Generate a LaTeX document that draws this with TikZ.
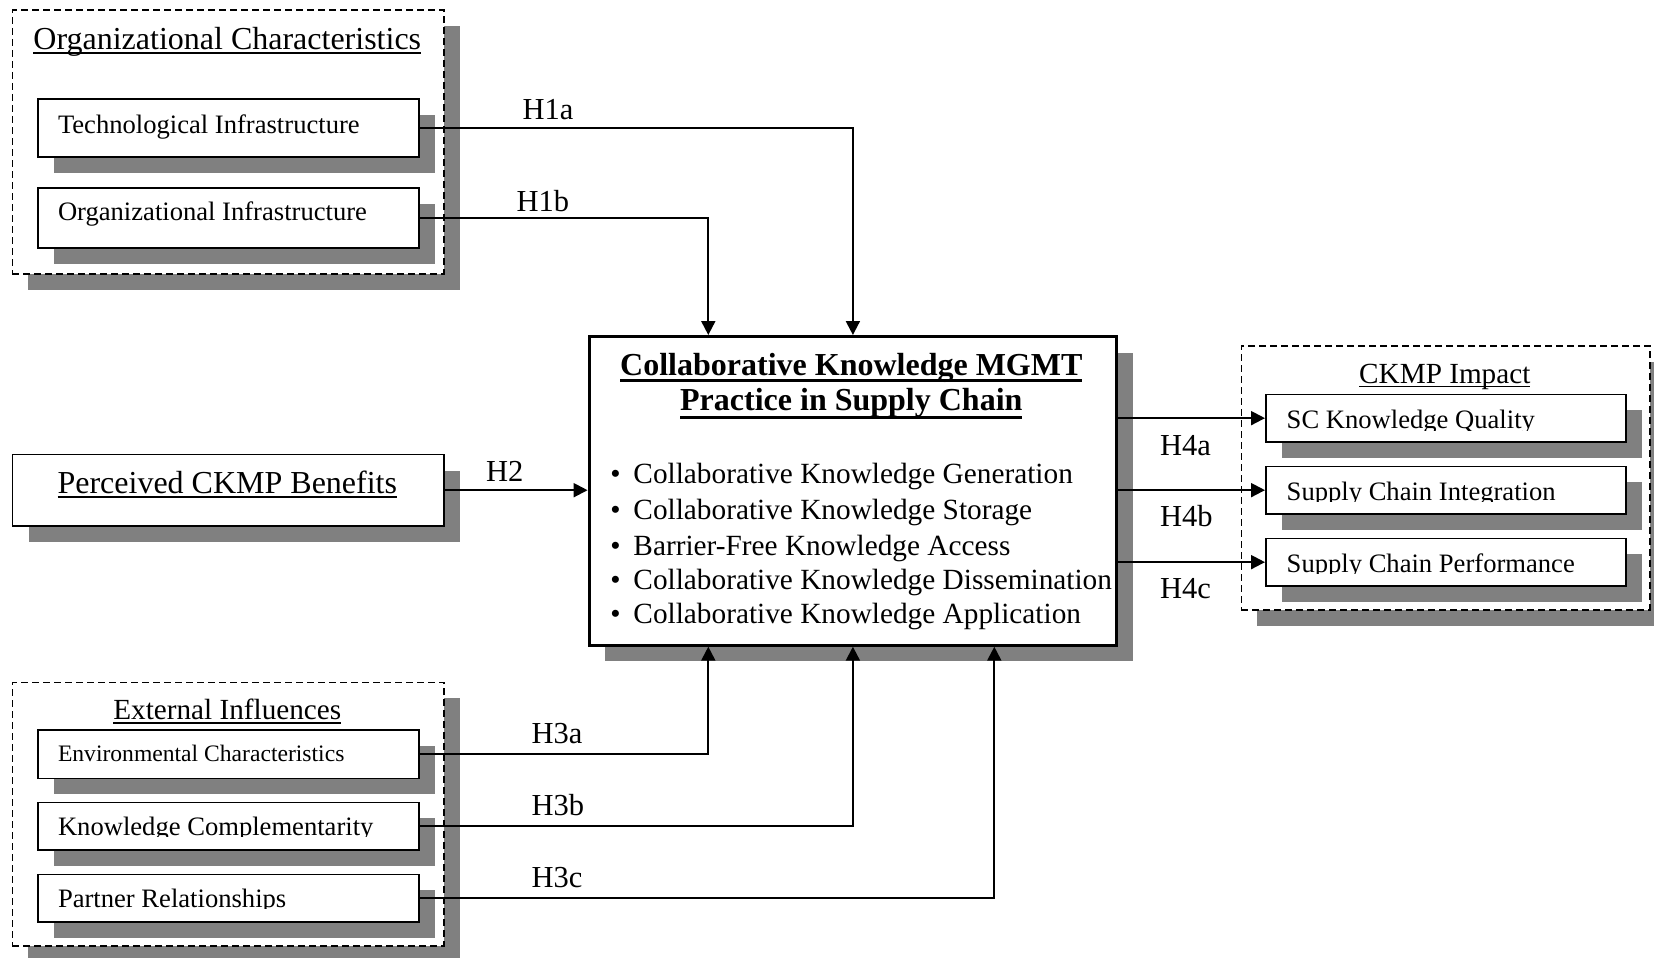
\documentclass[tikz,border=0pt]{standalone}
\usepackage{fontspec}
\setmainfont{Liberation Serif}
\usetikzlibrary{arrows.meta,shadows}
\definecolor{shade}{HTML}{808080}
\newcommand{\fsz}[1]{\fontsize{#1}{#1}\selectfont}
% text whose lower part is cut off just under the baseline
\newcommand{\cliptxt}[6]{% name, x, baseline, cut offset, font, text
  \begin{scope}
    \clip (#2-10,#3-60) rectangle (#2+600,#3+#4);
    \node[txt, font=#5, anchor=base west] (#1) at (#2,#3) {#6};
  \end{scope}}
\begin{document}
\begin{tikzpicture}[x=1pt,y=-1pt,
  shadowed/.style={drop shadow={shadow xshift=16pt,shadow yshift=-16pt,fill=shade,opacity=1}},
  group/.style={shadowed, draw, fill=white, line width=1.6pt, dash pattern=on 7pt off 4pt, inner sep=0pt, anchor=north west},
  box/.style={shadowed, draw, fill=white, line width=1.8pt, inner sep=0pt, anchor=north west},
  core/.style={shadowed, draw, fill=white, line width=3.2pt, inner sep=0pt, anchor=north west},
  txt/.style={inner sep=0pt, outer sep=0pt},
  ul/.style={line width=2pt},
  link/.style={line width=2pt},
  arr/.style={link, -{Triangle[length=14pt,width=14pt]}},
  boxfont/.style={font=\fsz{26.6}},
  hfont/.style={font=\fsz{30.5}},
]
\useasboundingbox (0,0) rectangle (1654,958);
\clip (0,0) rectangle (1654,958);

% ---- group frames
\node[group, minimum width=431.4pt, minimum height=263.5pt] (ocg) at (11.6,9.5) {};
\node[group, minimum width=431.4pt, minimum height=263.5pt] (extg) at (11.6,681.5) {};
\node[group, minimum width=408.4pt, minimum height=264pt] (ckg) at (1240.6,345) {};

% ---- boxes
\node[box, minimum width=381pt, minimum height=58pt] (tech) at (37,98) {};
\node[box, minimum width=381pt, minimum height=60pt] (org) at (37,187) {};
\node[box, minimum width=431.4pt, minimum height=71.4pt] (perceived) at (11.6,453.6) {};
\node[core, minimum width=527.4pt, minimum height=308.5pt] (central) at (587.6,335) {};
\node[box, minimum width=360pt, minimum height=47.5pt] (sckq) at (1265,393.5) {};
\node[box, minimum width=360pt, minimum height=47.5pt] (sci) at (1265,465.5) {};
\node[box, minimum width=360pt, minimum height=47.5pt] (scp) at (1265,537.5) {};
\node[box, minimum width=381pt, minimum height=48.5pt] (env) at (37,729) {};
\node[box, minimum width=381pt, minimum height=47.5pt] (kc) at (37,801.5) {};
\node[box, minimum width=381pt, minimum height=47.5pt] (pr) at (37,873.5) {};

% ---- titles
\node[txt, font=\fsz{32}, anchor=base] (octitle) at (227.3,50) {Organizational Characteristics};
\draw[ul] ([yshift=-3.3pt]octitle.base west) -- ([yshift=-3.3pt]octitle.base east);
\node[txt, font=\fsz{32}, anchor=base] (pertitle) at (227.3,493.5) {Perceived CKMP Benefits};
\draw[ul] ([yshift=-3.5pt]pertitle.base west) -- ([yshift=-3.5pt]pertitle.base east);
\node[txt, font=\fsz{29.2}, anchor=base] (exttitle) at (227.3,719.3) {External Influences};
\draw[ul] ([yshift=-3.4pt]exttitle.base west) -- ([yshift=-3.4pt]exttitle.base east);
\node[txt, font=\fsz{29.2}, anchor=base] (cktitle) at (1444.8,383.3) {CKMP Impact};
\draw[line width=1.6pt] ([yshift=-3.2pt]cktitle.base west) -- ([yshift=-3.2pt]cktitle.base east);
\node[txt, font=\fsz{32}\bfseries, anchor=base] (ctitleA) at (851.3,375) {Collaborative Knowledge MGMT};
\draw[line width=3pt] ([yshift=-5.7pt]ctitleA.base west) -- ([yshift=-5.7pt]ctitleA.base east);
\node[txt, font=\fsz{32}\bfseries, anchor=base] (ctitleB) at (851.3,410.5) {Practice in Supply Chain};
\draw[line width=3pt] ([yshift=-6.5pt]ctitleB.base west) -- ([yshift=-6.5pt]ctitleB.base east);

% ---- practice list
\node[txt, font=\fsz{29.3}, anchor=base west] (p1) at (610.4,483.3) {\makebox[23.1pt][l]{\textbullet}Collaborative Knowledge Generation};
\node[txt, font=\fsz{29.3}, anchor=base west] (p2) at (610.4,519.3) {\makebox[23.1pt][l]{\textbullet}Collaborative Knowledge Storage};
\node[txt, font=\fsz{29.3}, anchor=base west] (p3) at (610.4,555) {\makebox[23.1pt][l]{\textbullet}Barrier-Free Knowledge Access};
\node[txt, font=\fsz{29.3}, anchor=base west] (p4) at (610.4,589.3) {\makebox[23.1pt][l]{\textbullet}Collaborative Knowledge Dissemination};
\node[txt, font=\fsz{29.3}, anchor=base west] (p5) at (610.4,623.3) {\makebox[23.1pt][l]{\textbullet}Collaborative Knowledge Application};

% ---- box texts
\node[txt, boxfont, anchor=base west] (techt) at (58,133.3) {Technological Infrastructure};
\node[txt, boxfont, anchor=base west] (orgt) at (58,220.7) {Organizational Infrastructure};
\node[txt, font=\fsz{23.6}, anchor=base west] (envt) at (58,761) {Environmental Characteristics};
\cliptxt{kct}{58}{835.7}{1}{\fsz{26.6}}{Knowledge Complementarity}
\cliptxt{prt}{58}{907.7}{1}{\fsz{26.6}}{Partner Relationships}
\cliptxt{sckqt}{1286.7}{428.3}{1.7}{\fsz{26.6}}{SC Knowledge Quality}
\cliptxt{scit}{1286.7}{500.7}{1}{\fsz{26.6}}{Supply Chain Integration}
\cliptxt{scpt}{1286.7}{572.7}{0.7}{\fsz{26.6}}{Supply Chain Performance}

% ---- hypothesis labels
\node[txt, hfont, anchor=base west] (h1a) at (522.7,119.3) {H1a};
\cliptxt{h1b}{516.7}{211.7}{0.5}{\fsz{30.5}}{H1b}
\node[txt, hfont, anchor=base west] (h2) at (486,481.7) {H2};
\node[txt, hfont, anchor=base west] (h3a) at (531.6,743.5) {H3a};
\cliptxt{h3b}{531.6}{815.5}{0.5}{\fsz{30.5}}{H3b}
\node[txt, hfont, anchor=base west] (h3c) at (531.6,887.5) {H3c};
\node[txt, hfont, anchor=base west] (h4a) at (1160,455) {H4a};
\cliptxt{h4b}{1160}{526.7}{0.5}{\fsz{30.5}}{H4b}
\node[txt, hfont, anchor=base west] (h4c) at (1160,598.3) {H4c};

% ---- connectors
\draw[arr] (tech.east) -| (central.north);
\draw[arr] (org.east) -| ([xshift=-144.6pt]central.north);
\draw[arr] (perceived.east) -- (perceived.east -| central.west);
\draw[arr] (env.east) -| ([xshift=-144.6pt]central.south);
\draw[arr] (kc.east) -| (central.south);
\draw[arr] (pr.east) -| ([xshift=141.4pt]central.south);
\draw[arr] (central.east |- sckq.west) -- (sckq.west);
\draw[arr] (central.east |- sci.west) -- (sci.west);
\draw[arr] (central.east |- scp.west) -- (scp.west);
\end{tikzpicture}
\end{document}
